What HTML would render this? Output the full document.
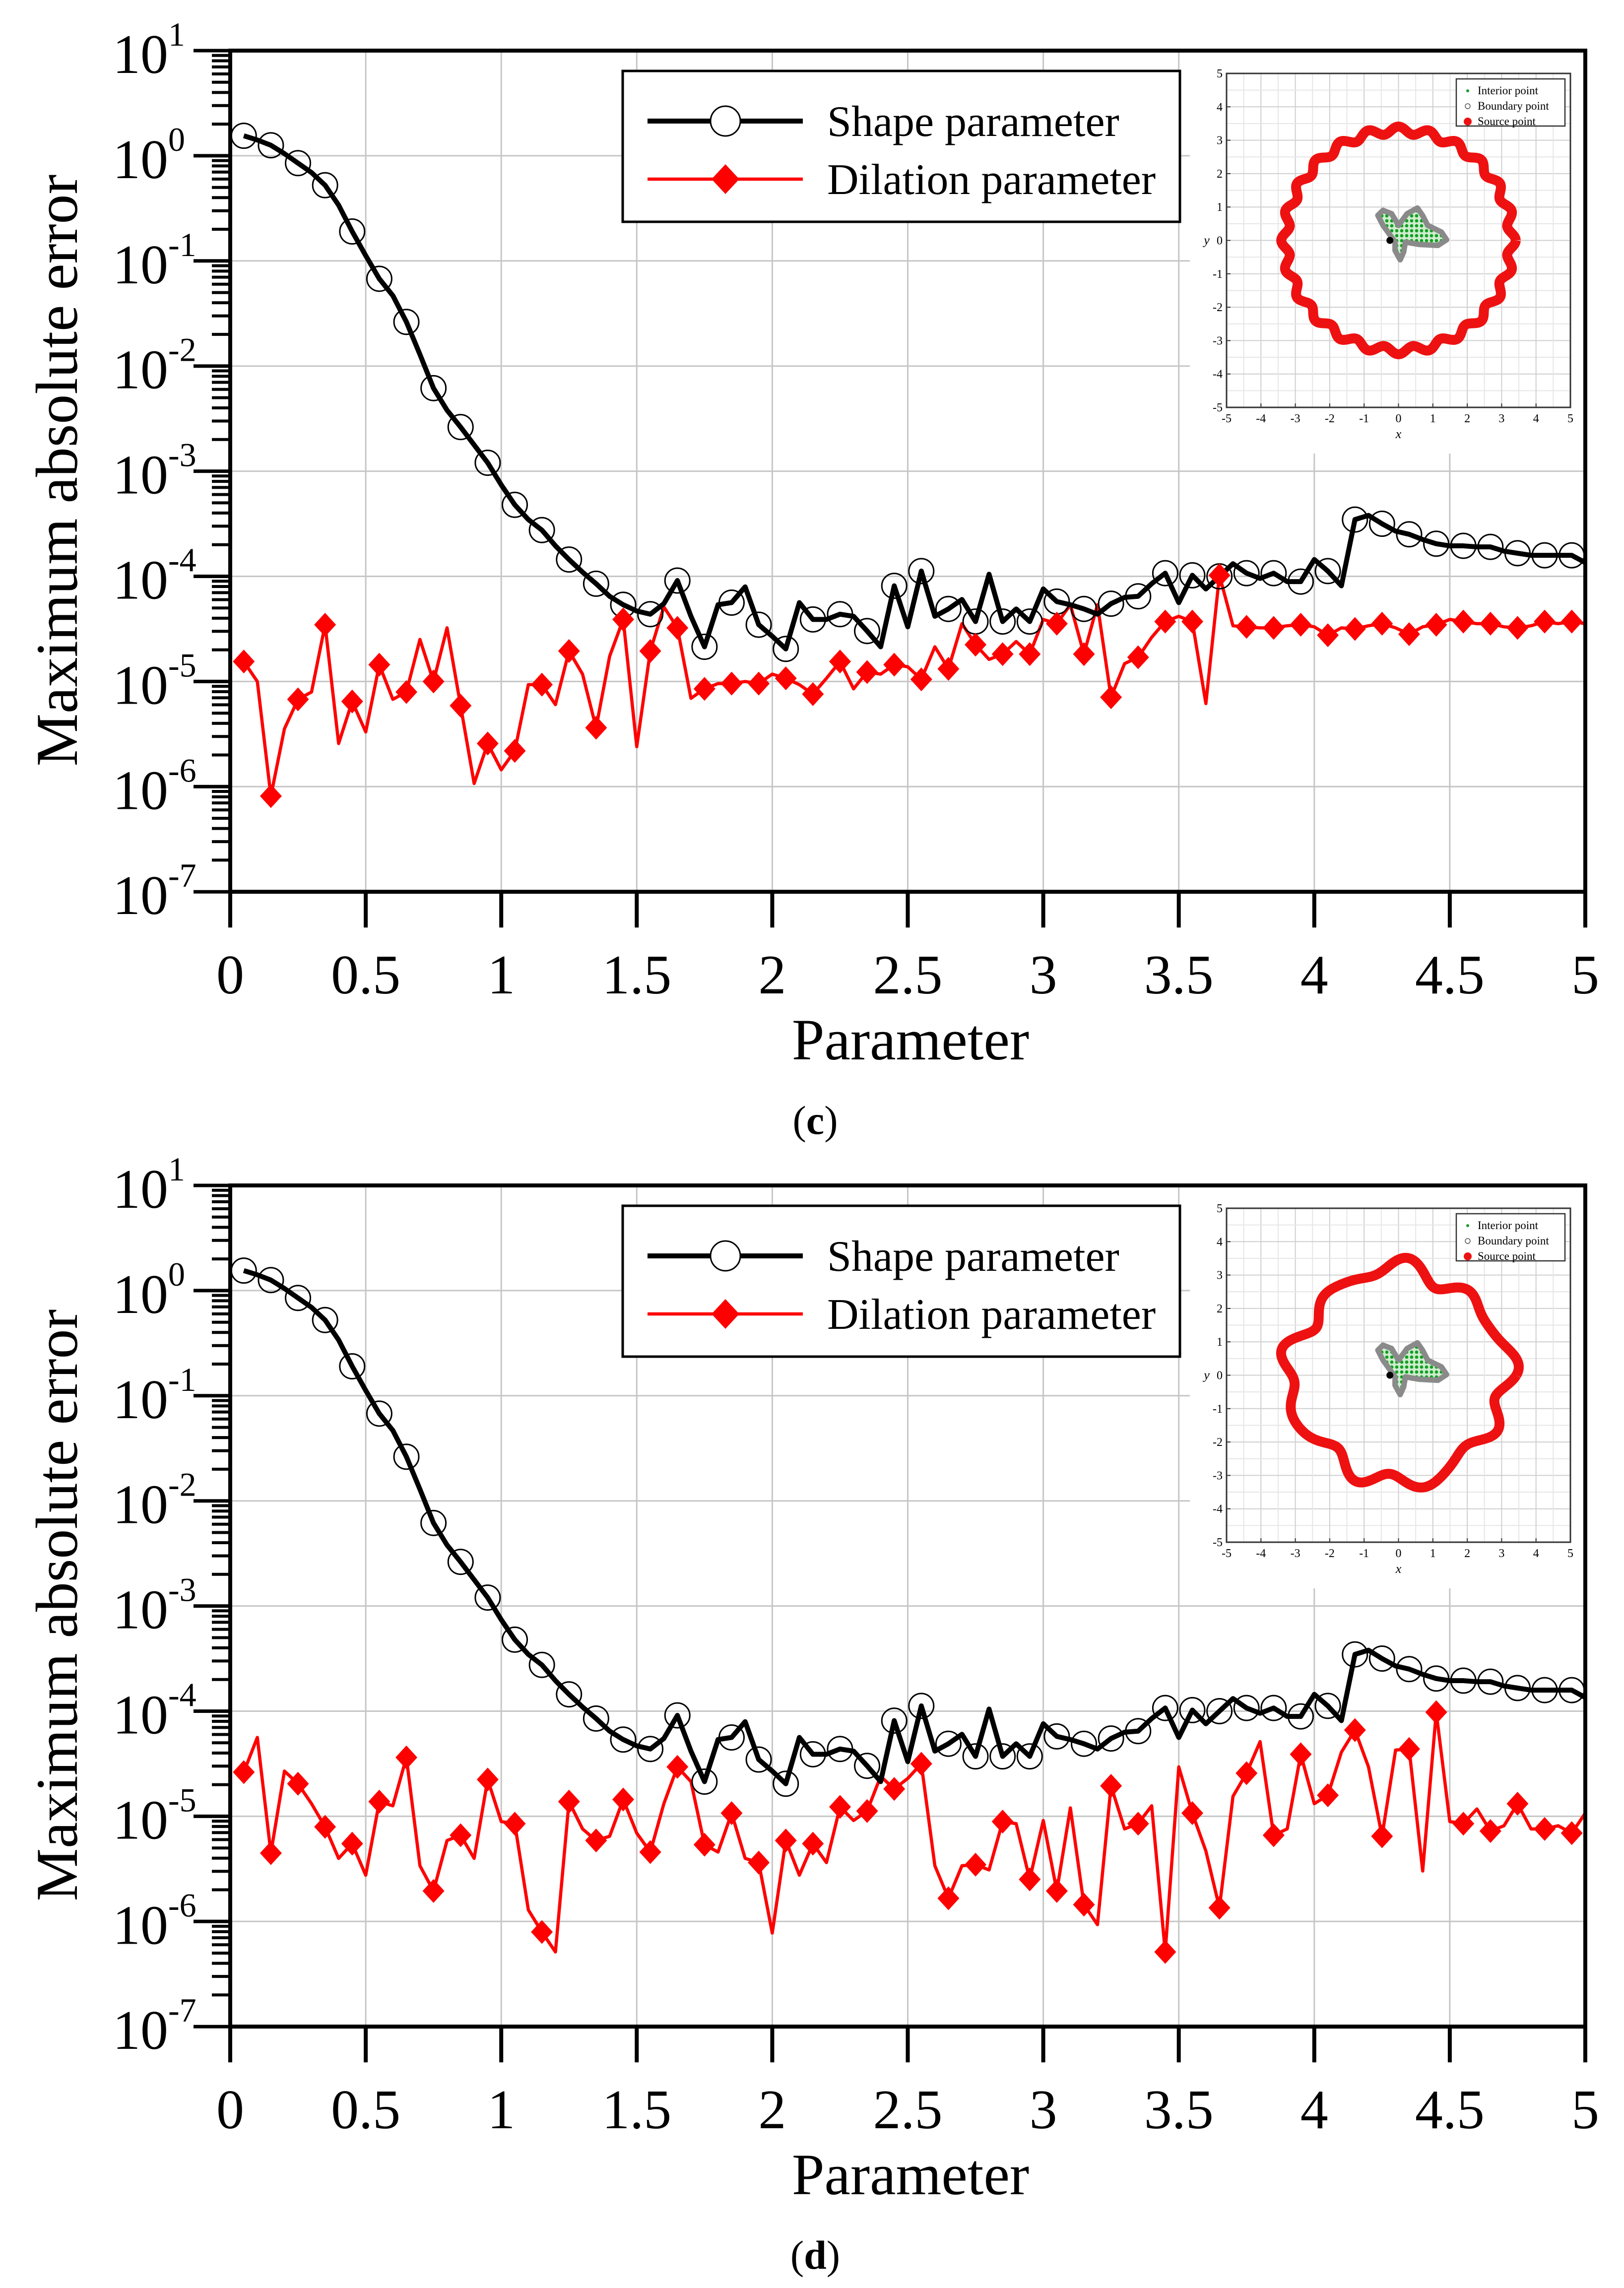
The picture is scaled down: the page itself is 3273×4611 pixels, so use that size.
<!DOCTYPE html>
<html><head><meta charset="utf-8"><title>Maximum absolute error vs parameter</title>
<style>
html,body{margin:0;padding:0;background:#fff;}
svg{display:block;}
text{font-family:"Liberation Serif","Times New Roman",serif;fill:#000;}
</style></head>
<body>
<svg id="fig" width="3273" height="4611" viewBox="0 0 3273 4611" xmlns="http://www.w3.org/2000/svg">
<defs>
<pattern id="dots" width="10" height="10" patternUnits="userSpaceOnUse">
<rect width="10" height="10" fill="#cfeccf"/><circle cx="5" cy="5" r="3.4" fill="#12a022"/>
</pattern>
</defs>
</svg>
<script>
// ---- data (log10 of maximum absolute error) ----
const params = Array.from({length:100},(_,i)=>+(0.05*(i+1)).toFixed(2));
const xTickLabels = ["0","0.5","1","1.5","2","2.5","3","3.5","4","4.5","5"];
const xTickValues = [0,0.5,1,1.5,2,2.5,3,3.5,4,4.5,5];
const yDecades = [1,0,-1,-2,-3,-4,-5,-6,-7];
const legendLabels = ["Shape parameter","Dilation parameter"];

const shapeLogErrC = [0.19,0.15,0.10,0.02,-0.07,-0.16,-0.28,-0.47,-0.72,-0.95,-1.17,-1.33,-1.58,-1.89,-2.21,-2.42,-2.58,-2.75,-2.92,-3.13,
-3.32,-3.46,-3.56,-3.71,-3.84,-3.96,-4.07,-4.19,-4.27,-4.33,-4.36,-4.26,-4.04,-4.38,-4.67,-4.27,-4.25,-4.10,-4.46,-4.57,
-4.69,-4.25,-4.41,-4.41,-4.36,-4.38,-4.52,-4.67,-4.09,-4.48,-3.95,-4.38,-4.31,-4.22,-4.43,-3.98,-4.43,-4.31,-4.43,-4.12,
-4.24,-4.27,-4.31,-4.36,-4.26,-4.20,-4.19,-4.07,-3.97,-4.25,-3.99,-4.12,-4.00,-3.88,-3.97,-4.02,-3.97,-4.05,-4.05,-3.84,
-3.95,-4.09,-3.46,-3.42,-3.50,-3.57,-3.60,-3.65,-3.69,-3.71,-3.71,-3.72,-3.72,-3.76,-3.78,-3.80,-3.80,-3.80,-3.80,-3.87];

const dilationLogErrC = [-4.81,-5.00,-6.09,-5.45,-5.17,-5.10,-4.46,-5.59,-5.19,-5.48,-4.84,-5.17,-5.10,-4.60,-5.00,-4.49,-5.23,-5.97,-5.59,-5.84,
-5.66,-5.03,-5.03,-5.22,-4.71,-4.93,-5.44,-4.76,-4.41,-5.62,-4.71,-4.29,-4.49,-5.16,-5.07,-5.02,-5.02,-5.00,-5.02,-4.93,
-4.97,-5.03,-5.12,-4.97,-4.81,-5.07,-4.91,-4.93,-4.84,-4.86,-4.98,-4.67,-4.88,-4.45,-4.65,-4.79,-4.74,-4.62,-4.74,-4.41,
-4.45,-4.27,-4.74,-4.27,-5.15,-4.83,-4.77,-4.58,-4.43,-4.38,-4.43,-5.21,-3.99,-4.47,-4.48,-4.49,-4.49,-4.47,-4.46,-4.48,
-4.56,-4.49,-4.50,-4.47,-4.45,-4.49,-4.55,-4.48,-4.46,-4.41,-4.43,-4.45,-4.45,-4.48,-4.49,-4.47,-4.43,-4.45,-4.43,-4.45];

const shapeLogErrD = [0.19,0.15,0.10,0.02,-0.07,-0.16,-0.28,-0.47,-0.72,-0.95,-1.17,-1.33,-1.58,-1.89,-2.21,-2.42,-2.58,-2.75,-2.92,-3.13,
-3.32,-3.46,-3.56,-3.71,-3.84,-3.96,-4.07,-4.19,-4.27,-4.33,-4.36,-4.26,-4.04,-4.38,-4.67,-4.27,-4.25,-4.10,-4.46,-4.57,
-4.69,-4.25,-4.41,-4.41,-4.36,-4.38,-4.52,-4.67,-4.09,-4.48,-3.95,-4.38,-4.31,-4.22,-4.43,-3.98,-4.43,-4.31,-4.43,-4.12,
-4.24,-4.27,-4.31,-4.36,-4.26,-4.20,-4.19,-4.07,-3.97,-4.25,-3.99,-4.12,-4.00,-3.88,-3.97,-4.02,-3.97,-4.05,-4.05,-3.84,
-3.95,-4.09,-3.46,-3.42,-3.50,-3.57,-3.60,-3.65,-3.69,-3.71,-3.71,-3.72,-3.72,-3.76,-3.78,-3.80,-3.80,-3.80,-3.80,-3.87];

const dilationLogErrD = [-4.58,-4.25,-5.35,-4.57,-4.69,-4.88,-5.10,-5.40,-5.26,-5.56,-4.86,-4.90,-4.44,-5.47,-5.71,-5.23,-5.18,-5.40,-4.65,-5.05,
-5.07,-5.89,-6.10,-6.29,-4.86,-5.12,-5.23,-5.19,-4.84,-5.16,-5.34,-4.88,-4.53,-4.67,-5.27,-5.34,-4.97,-5.40,-5.44,-6.11,
-5.23,-5.56,-5.26,-5.44,-4.91,-5.04,-4.95,-4.62,-4.74,-4.64,-4.50,-5.47,-5.78,-5.47,-5.46,-5.51,-5.05,-5.07,-5.60,-5.04,
-5.71,-4.92,-5.84,-6.03,-4.71,-5.12,-5.07,-4.90,-6.29,-4.53,-4.97,-5.33,-5.87,-4.81,-4.59,-4.29,-5.18,-5.12,-4.41,-4.88,
-4.80,-4.39,-4.18,-4.53,-5.19,-4.37,-4.36,-5.52,-4.01,-5.05,-5.07,-4.93,-5.14,-5.09,-4.88,-5.12,-5.12,-5.09,-5.16,-4.97];

// ---- layout ----
const NS="http://www.w3.org/2000/svg";
const svg=document.getElementById('fig');
const X0=464, X1=3195, Y0=102, DEC=211.9;
function el(tag,attrs,parent){const e=document.createElementNS(NS,tag);for(const k in attrs)e.setAttribute(k,attrs[k]);(parent||svg).appendChild(e);return e;}
function xScale(v){return X0+(v/5)*(X1-X0);}
function yScale(L,dy){return Y0+dy+(1-L)*DEC;}

function drawPanel(dy, shapeArr, dilArr, caption, insetShape){
  const g=el('g',{});
  
  
  const Yb=yScale(-7,dy);
  const grid=el('g',{},g);
  
  
  xTickValues.forEach(v=>{el('line',{x1:xScale(v),x2:xScale(v),y1:Y0+dy,y2:Yb,stroke:'#c6c6c6','stroke-width':3},grid);});
  yDecades.forEach(L=>{el('line',{x1:X0,x2:X1,y1:yScale(L,dy),y2:yScale(L,dy),stroke:'#c6c6c6','stroke-width':3},grid);});
  drawInset(g,dy,insetShape);
  const shp=params.map((p,i)=>xScale(p)+','+yScale(shapeArr[i],dy)).join(' ');
  const dil=params.map((p,i)=>xScale(p)+','+yScale(dilArr[i],dy)).join(' ');
  const dl=el('polyline',{points:dil,fill:'none',stroke:'#ff0000','stroke-width':6.5,'stroke-linejoin':'round'},g);
  
  
  const sl=el('polyline',{points:shp,fill:'none',stroke:'#000','stroke-width':10,'stroke-linejoin':'round'},g);
  
  
  params.forEach((p,i)=>{
    if(i%2!==0) return;
    const cx=xScale(p), cy=yScale(shapeArr[i],dy);
    const c=el('circle',{cx:cx,cy:cy,r:25,fill:'none',stroke:'#000','stroke-width':3},g);
    
    
    const dx=xScale(p), dyy=yScale(dilArr[i],dy);
    const d=el('polygon',{points:`${dx},${dyy-24} ${dx+22},${dyy} ${dx},${dyy+24} ${dx-22},${dyy}`,fill:'#ff0000'},g);
    
    
  });
  const ax=el('rect',{x:X0,y:Y0+dy,width:X1-X0,height:Yb-Y0-dy,fill:'none',stroke:'#000','stroke-width':8},g);
  
  
  xTickValues.forEach((v,i)=>{
    el('line',{x1:xScale(v),x2:xScale(v),y1:Yb,y2:Yb+72,stroke:'#000','stroke-width':8},g);
    const t=el('text',{x:xScale(v),y:2002+dy,'font-size':112,'text-anchor':'middle'},g);
    t.textContent=xTickLabels[i];
    
    
  });
  yDecades.forEach(L=>{
    const y=yScale(L,dy);
    el('line',{x1:X0-74,x2:X0,y1:y,y2:y,stroke:'#000','stroke-width':7},g);
    if(L>-7){for(let m=2;m<=9;m++){const ym=yScale(L-1+Math.log10(m),dy);el('line',{x1:X0-37,x2:X0,y1:ym,y2:ym,stroke:'#000','stroke-width':6},g);}}
    const t=el('text',{x:227,y:y+45,'font-size':112},g);
    
    
    t.textContent='10';
    const s=el('tspan',{'font-size':68,dy:-55},t);
    s.textContent=String(L);
  });
  const xt=el('text',{x:1835,y:2135+dy,'font-size':118,'text-anchor':'middle'},g);
  xt.textContent='Parameter';
  
  
  const yt=el('text',{x:155,y:948+dy,'font-size':120,'text-anchor':'middle',transform:`rotate(-90 155 ${948+dy})`},g);
  yt.textContent='Maximum absolute error';
  
  
  const cp=el('text',{x:1643,y:2285+dy,'font-size':82,'text-anchor':'middle'},g);
  
  
  cp.textContent='(';
  const cb=el('tspan',{'font-weight':'bold'},cp); cb.textContent=caption;
  const ce=el('tspan',{},cp); ce.textContent=')';
  const lg=el('g',{},g);
  
  
  el('rect',{x:1255,y:143+dy,width:1123,height:304,fill:'#fff',stroke:'#000','stroke-width':5},lg);
  const r1=244+dy, r2=361+dy;
  el('line',{x1:1305,x2:1618,y1:r1,y2:r1,stroke:'#000','stroke-width':10},lg);
  el('circle',{cx:1462,cy:r1,r:30,fill:'#fff',stroke:'#000','stroke-width':3},lg);
  el('line',{x1:1305,x2:1618,y1:r2,y2:r2,stroke:'#ff0000','stroke-width':6.5},lg);
  el('polygon',{points:`1462,${r2-30} 1490,${r2} 1462,${r2+30} 1434,${r2}`,fill:'#ff0000'},lg);
  [r1,r2].forEach((r,i)=>{
    const t=el('text',{x:1667,y:r+30,'font-size':88},lg);
    t.textContent=legendLabels[i];
    
    
  });
}

function drawInset(parent,dy,shapeFn){
  const g=el('g',{},parent);
  
  
  el('rect',{x:2398,y:106+dy,width:793,height:808,fill:'#fff'},g);
  const L=2472,R=3165,T=148+dy,B=821+dy;
  const ix=v=>L+(v+5)/10*(R-L), iy=v=>B-(v+5)/10*(B-T);
  for(let v=-5;v<=5;v+=0.5){
    el('line',{x1:ix(v),x2:ix(v),y1:T,y2:B,stroke:(v%1===0)?'#cfcfcf':'#e6e6e6','stroke-width':2},g);
    el('line',{x1:L,x2:R,y1:iy(v),y2:iy(v),stroke:(v%1===0)?'#cfcfcf':'#e6e6e6','stroke-width':2},g);
  }
  el('rect',{x:L,y:T,width:R-L,height:B-T,fill:'none',stroke:'#333','stroke-width':3},g);
  for(let v=-5;v<=5;v++){
    const tx=el('text',{x:ix(v),y:B+30,'font-size':24,'text-anchor':'middle',fill:'#333'},g); tx.textContent=String(v);
    const ty=el('text',{x:L-8,y:iy(v)+8,'font-size':24,'text-anchor':'end',fill:'#333'},g); ty.textContent=String(v);
    el('line',{x1:ix(v),x2:ix(v),y1:B,y2:B-8,stroke:'#333','stroke-width':2},g);
    el('line',{x1:L,x2:L+8,y1:iy(v),y2:iy(v),stroke:'#333','stroke-width':2},g);
  }
  const xl=el('text',{x:(L+R)/2,y:B+62,'font-size':26,'font-style':'italic','text-anchor':'middle',fill:'#333'},g); xl.textContent='x';
  const yl=el('text',{x:L-40,y:(T+B)/2+8,'font-size':26,'font-style':'italic','text-anchor':'middle',fill:'#333'},g); yl.textContent='y';
  let pts=[];
  for(let k=0;k<=720;k++){const th=k/720*2*Math.PI;const r=shapeFn(th);pts.push(ix(r*Math.cos(th))+','+iy(r*Math.sin(th)));}
  const ring=el('polyline',{points:pts.join(' '),fill:'none',stroke:'#ee1111','stroke-width':20,'stroke-linejoin':'round'},g);
  
  
  const bp=[[-0.1,-0.05],[-0.45,0.45],[-0.6,0.75],[-0.45,0.9],[-0.2,0.8],[0,0.45],[0.25,0.8],[0.55,0.97],[0.7,0.75],[0.85,0.45],[1.25,0.25],[1.4,0.02],[1.15,-0.15],[0.6,-0.12],[0.2,-0.05],[0.15,-0.35],[0.05,-0.58],[-0.1,-0.3]];
  const bpath=el('polygon',{points:bp.map(p=>ix(p[0])+','+iy(p[1])).join(' '),fill:'url(#dots)',stroke:'#8a8a8a','stroke-width':11,'stroke-linejoin':'round'},g);
  
  
  el('circle',{cx:ix(-0.25),cy:iy(0),r:7,fill:'#000'},g);
  const lg=el('g',{},g);
  
  
  el('rect',{x:2935,y:159+dy,width:219,height:95,fill:'#fff',stroke:'#333','stroke-width':2.5},lg);
  const names=['Interior point','Boundary point','Source point'];
  names.forEach((n,i)=>{
    const y=190+dy+i*31;
    if(i===0) el('circle',{cx:2958,cy:y-7,r:3,fill:'#1a9a2a'},lg);
    if(i===1) el('circle',{cx:2958,cy:y-7,r:5,fill:'none',stroke:'#555','stroke-width':1.5},lg);
    if(i===2) el('circle',{cx:2958,cy:y-7,r:8,fill:'#ee1111'},lg);
    const t=el('text',{x:2978,y:y,'font-size':23,fill:'#333'},lg); t.textContent=n;
  });
}

drawPanel(0, shapeLogErrC, dilationLogErrC, 'c', th=>3.3+0.11*Math.cos(24*th));
drawPanel(2287, shapeLogErrD, dilationLogErrD, 'd', th=>3.15+0.22*Math.sin(9*th+0.4)+0.12*Math.sin(4*th+1.2)+0.08*Math.cos(13*th));
</script>
</body></html>
